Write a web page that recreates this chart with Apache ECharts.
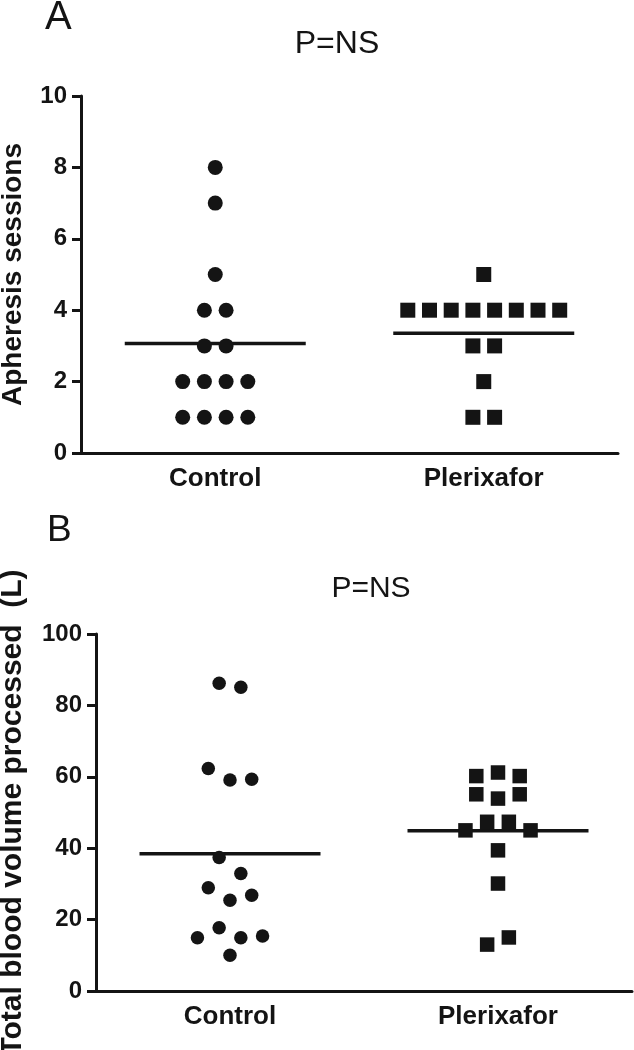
<!DOCTYPE html>
<html>
<head>
<meta charset="utf-8">
<script src="https://cdn.jsdelivr.net/npm/echarts@6/dist/echarts.min.js"></script>
<style>
  html, body { margin: 0; padding: 0; background: #fff; }
  #chart { width: 634px; height: 1050px; }
</style>
</head>
<body>
<div id="chart"></div>
<script>
// ---- data ----
const categories = ['Control', 'Plerixafor'];

// Panel A: apheresis sessions
const sessionsControl    = [8, 7, 5, 4, 4, 3, 3, 2, 2, 2, 2, 1, 1, 1, 1];
const sessionsPlerixafor = [5, 4, 4, 4, 4, 4, 4, 4, 4, 3, 3, 2, 1, 1];
const sessionsTicks = [0, 2, 4, 6, 8, 10];

// Panel B: total blood volume processed (L)
const volumeControl    = [86.2, 85.1, 62.3, 59.1, 59.3, 37.4, 32.9, 28.9, 25.4, 26.8, 14.9, 17.7, 14.9, 15.4, 10.0];
const volumePlerixafor = [60.2, 61.2, 60.2, 55.1, 53.9, 55.1, 45.0, 47.4, 47.4, 45.0, 39.4, 30.1, 13.0, 15.0];
const volumeTicks = [0, 20, 40, 60, 80, 100];

const panelLabels = ['A', 'B'];
const pLabel = 'P=NS';
const yTitleA = 'Apheresis sessions';
const yTitleB = 'Total blood volume processed  (L)';

// ---- layout ----
const FONT = "'Liberation Sans', Arial, Helvetica, sans-serif";
const INK = '#141414';
const gridA = { left: 81, top: 96, width: 537, height: 357, outerBoundsMode: 'none', containLabel: false };
const gridB = { left: 96, top: 634, width: 536, height: 357, outerBoundsMode: 'none', containLabel: false };
const SLOT = 21.7;      // horizontal spacing of points sharing a row (px)
const ROW_PX = 18;      // points closer than this vertically share a row (px)

function mean(a) { return a.reduce((s, v) => s + v, 0) / a.length; }

// Column-scatter layout: points with close values share a row, spread symmetrically.
function swarmOffsets(values, threshold) {
  const idx = values.map((v, i) => i).sort((a, b) => values[b] - values[a] || a - b);
  const off = new Array(values.length);
  let g = 0;
  while (g < idx.length) {
    const top = values[idx[g]];
    let end = g;
    while (end + 1 < idx.length && top - values[idx[end + 1]] < threshold) end++;
    const members = idx.slice(g, end + 1).sort((a, b) => a - b);
    const n = members.length;
    members.forEach((m, k) => { off[m] = (k - (n - 1) / 2) * SLOT; });
    g = end + 1;
  }
  return off;
}

function pointData(values, catIndex, ticks, grid) {
  const range = ticks[ticks.length - 1] - ticks[0];
  const thr = ROW_PX / (grid.height / range);
  const off = swarmOffsets(values, thr);
  return values.map((v, i) => ({ value: [catIndex, v], symbolOffset: [off[i], 0] }));
}

function xAxisFor(gridIndex) {
  return {
    type: 'category', gridIndex, data: categories, boundaryGap: true,
    axisLine: { lineStyle: { color: INK, width: 3 } },
    axisTick: { alignWithLabel: true, length: 9, lineStyle: { color: INK, width: 3 } },
    axisLabel: { color: INK, fontFamily: FONT, fontWeight: 'bold', fontSize: 26, margin: 13 },
    splitLine: { show: false }
  };
}
function yAxisFor(gridIndex, ticks, name, nameGap, nameSize) {
  return {
    type: 'value', gridIndex,
    min: ticks[0], max: ticks[ticks.length - 1], interval: ticks[1] - ticks[0],
    name, nameLocation: 'middle', nameGap,
    nameTextStyle: { color: INK, fontFamily: FONT, fontWeight: 'bold', fontSize: nameSize },
    axisLine: { show: true, lineStyle: { color: INK, width: 3 } },
    axisTick: { show: true, length: 9, lineStyle: { color: INK, width: 3 } },
    axisLabel: { color: INK, fontFamily: FONT, fontWeight: 'bold', fontSize: 24, margin: 14 },
    splitLine: { show: false }
  };
}

function meanSeries(axisIndex, groups) {
  return {
    type: 'scatter', xAxisIndex: axisIndex, yAxisIndex: axisIndex,
    symbol: 'rect', symbolSize: [181, 3.5], z: 1, silent: true,
    itemStyle: { color: INK, opacity: 1 },
    data: groups.map((g, i) => [i, mean(g)])
  };
}
function pointSeries(axisIndex, values, catIndex, ticks, grid, symbol, size) {
  return {
    type: 'scatter', xAxisIndex: axisIndex, yAxisIndex: axisIndex,
    symbol, symbolSize: size, z: 3,
    itemStyle: { color: INK, opacity: 1 },
    data: pointData(values, catIndex, ticks, grid)
  };
}

const chart = echarts.init(document.getElementById('chart'), null, { renderer: 'canvas' });
chart.setOption({
  animation: false,
  backgroundColor: '#ffffff',
  grid: [gridA, gridB],
  xAxis: [xAxisFor(0), xAxisFor(1)],
  yAxis: [
    yAxisFor(0, sessionsTicks, yTitleA, 54, 28),
    yAxisFor(1, volumeTicks, yTitleB, 68, 30)
  ],
  graphic: [
    { type: 'text', left: 45, top: -2, style: { text: panelLabels[0], font: '40px ' + FONT, fill: INK } },
    { type: 'text', x: 337, y: 44, style: { text: pLabel, font: '32px ' + FONT, fill: INK, textAlign: 'center', textVerticalAlign: 'middle' } },
    { type: 'text', left: 47, top: 512, style: { text: panelLabels[1], font: '37px ' + FONT, fill: INK } },
    { type: 'text', x: 371, y: 589, style: { text: pLabel, font: '30px ' + FONT, fill: INK, textAlign: 'center', textVerticalAlign: 'middle' } }
  ],
  series: [
    meanSeries(0, [sessionsControl, sessionsPlerixafor]),
    pointSeries(0, sessionsControl, 0, sessionsTicks, gridA, 'circle', 15),
    pointSeries(0, sessionsPlerixafor, 1, sessionsTicks, gridA, 'rect', 15),
    meanSeries(1, [volumeControl, volumePlerixafor]),
    pointSeries(1, volumeControl, 0, volumeTicks, gridB, 'circle', 13.5),
    pointSeries(1, volumePlerixafor, 1, volumeTicks, gridB, 'rect', 14.5)
  ]
});
</script>
</body>
</html>
